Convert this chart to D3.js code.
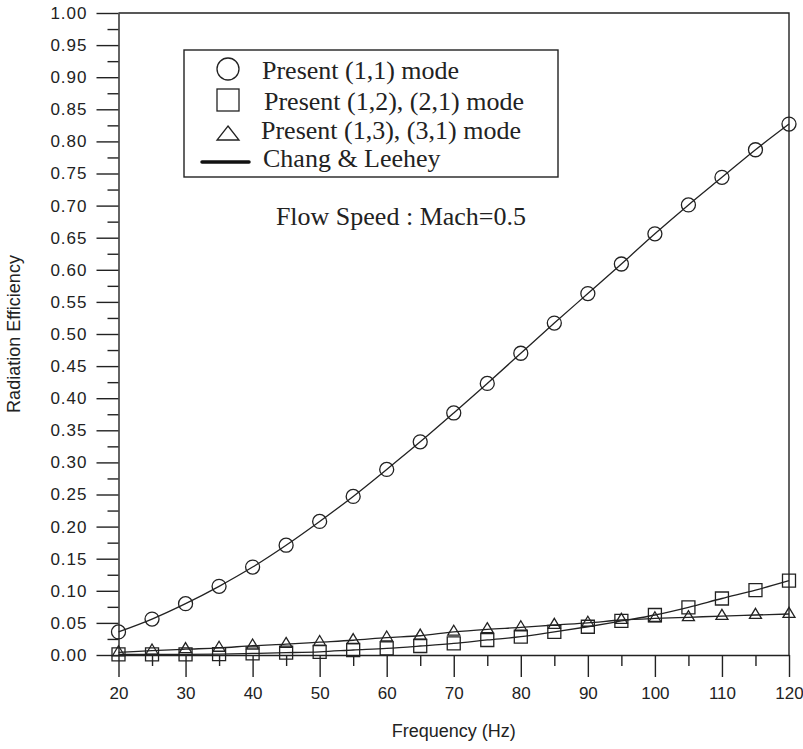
<!DOCTYPE html>
<html>
<head>
<meta charset="utf-8">
<script src="https://cdn.jsdelivr.net/npm/d3@7"></script>
<style>
  body { margin: 0; background: #fff; }
  svg { display: block; }
</style>
</head>
<body>
<div id="chart"></div>
<script>
const width = 803;
const height = 749;

// frequencies (Hz)
const freqs = [20, 25, 30, 35, 40, 45, 50, 55, 60, 65, 70, 75, 80, 85, 90, 95, 100, 105, 110, 115, 120];

// radiation efficiency
const mode11 = [0.036, 0.056, 0.080, 0.107, 0.137, 0.171, 0.208, 0.247, 0.289, 0.332, 0.377, 0.423, 0.470, 0.517, 0.563, 0.609, 0.656, 0.701, 0.744, 0.787, 0.827];
const mode12 = [0.001, 0.001, 0.001, 0.0015, 0.0025, 0.0036, 0.005, 0.0078, 0.0104, 0.014, 0.018, 0.0234, 0.0285, 0.036, 0.044, 0.053, 0.0623, 0.0743, 0.088, 0.101, 0.1157];
const mode13 = [0.004, 0.0067, 0.009, 0.011, 0.0145, 0.017, 0.020, 0.023, 0.027, 0.030, 0.036, 0.040, 0.043, 0.0467, 0.050, 0.0545, 0.057, 0.0587, 0.0607, 0.0623, 0.0639];

const legendLabels = ["Present (1,1) mode", "Present (1,2), (2,1) mode", "Present (1,3), (3,1) mode", "Chang & Leehey"];
const noteText = "Flow Speed : Mach=0.5";

const yMajor = d3.range(0, 1.0001, 0.05);
const yMinor = d3.range(0.025, 1, 0.05);
const xMajor = d3.range(20, 121, 10);
const xMinor = d3.range(25, 120, 10);

const ink = "#222";

const x = d3.scaleLinear().domain([20, 120]).range([118.5, 789]);
const y = d3.scaleLinear().domain([0, 1]).range([655, 13]);

const svg = d3.select("#chart").append("svg")
  .attr("width", width)
  .attr("height", height);

// frame (top and right)
svg.append("path")
  .attr("d", `M${x(20)},${y(1)}H${x(120)}V${y(0)}`)
  .attr("fill", "none")
  .attr("stroke", ink)
  .attr("stroke-width", 1.4);

// y axis
const yAxis = svg.append("g")
  .attr("transform", `translate(${x(20)},0)`)
  .call(d3.axisLeft(y).tickValues(yMajor).tickSize(22).tickPadding(9).tickFormat(d3.format(".2f")).tickSizeOuter(0));
svg.append("g")
  .attr("transform", `translate(${x(20)},0)`)
  .call(d3.axisLeft(y).tickValues(yMinor).tickSize(11).tickFormat("").tickSizeOuter(0))
  .select(".domain").remove();

// x axis
const xAxis = svg.append("g")
  .attr("transform", `translate(0,${y(0)})`)
  .call(d3.axisBottom(x).tickValues(xMajor).tickSize(22).tickPadding(10).tickSizeOuter(0));
svg.append("g")
  .attr("transform", `translate(0,${y(0)})`)
  .call(d3.axisBottom(x).tickValues(xMinor).tickSize(11).tickFormat("").tickSizeOuter(0))
  .select(".domain").remove();

svg.selectAll(".domain, .tick line")
  .attr("stroke", ink)
  .attr("stroke-width", 1.4);
svg.selectAll(".tick text")
  .attr("fill", ink)
  .style("font-family", "Liberation Sans, Arial, sans-serif")
  .style("font-size", "17px");
yAxis.selectAll(".tick text").style("letter-spacing", "1px");

// axis titles
svg.append("text")
  .attr("x", (x(20) + x(120)) / 2)
  .attr("y", 737)
  .attr("text-anchor", "middle")
  .attr("fill", ink)
  .style("font-family", "Liberation Sans, Arial, sans-serif")
  .style("font-size", "18px")
  .text("Frequency (Hz)");

svg.append("text")
  .attr("transform", `translate(20,${(y(0) + y(1)) / 2}) rotate(-90)`)
  .attr("text-anchor", "middle")
  .attr("fill", ink)
  .style("font-family", "Liberation Sans, Arial, sans-serif")
  .style("font-size", "18px")
  .text("Radiation Efficiency");

// series
const series = [
  { values: mode11, shape: "circle" },
  { values: mode12, shape: "square" },
  { values: mode13, shape: "triangle" }
];

const line = d3.line()
  .x(d => x(d[0]))
  .y(d => y(d[1]))
  .curve(d3.curveCatmullRom);

const symCircle = d3.symbol().type(d3.symbolCircle).size(Math.PI * 7 * 7);
const symSquare = d3.symbol().type(d3.symbolSquare).size(13 * 13);
const triPath = (w, h) => `M0,${-h * 2 / 3}L${w / 2},${h / 3}L${-w / 2},${h / 3}Z`;

series.forEach(s => {
  const pts = freqs.map((f, i) => [f, s.values[i]]);
  svg.append("path")
    .datum(pts)
    .attr("fill", "none")
    .attr("stroke", ink)
    .attr("stroke-width", 1.3)
    .attr("d", line);

  svg.append("g").selectAll("path")
    .data(pts)
    .enter()
    .append("path")
    .attr("transform", d => `translate(${x(d[0])},${y(d[1])})`)
    .attr("d", s.shape === "circle" ? symCircle() : s.shape === "square" ? symSquare() : triPath(12, 10))
    .attr("fill", "none")
    .attr("stroke", ink)
    .attr("stroke-width", 1.3);
});

// legend
const legend = svg.append("g");
legend.append("rect")
  .attr("x", 184)
  .attr("y", 50)
  .attr("width", 374)
  .attr("height", 127)
  .attr("fill", "#fff")
  .attr("stroke", ink)
  .attr("stroke-width", 1.4);

const rowY = [79, 110, 139, 167];
const symY = [69, 100, 134, 162];
const textX = [262, 264, 261, 263];

legend.append("circle")
  .attr("cx", 228).attr("cy", symY[0]).attr("r", 11)
  .attr("fill", "none").attr("stroke", ink).attr("stroke-width", 1.3);
legend.append("rect")
  .attr("x", 217).attr("y", symY[1] - 11).attr("width", 22).attr("height", 22)
  .attr("fill", "none").attr("stroke", ink).attr("stroke-width", 1.3);
legend.append("path")
  .attr("transform", `translate(228,${symY[2]})`)
  .attr("d", `M0,-8L11,6L-11,6Z`)
  .attr("fill", "none").attr("stroke", ink).attr("stroke-width", 1.3);
legend.append("line")
  .attr("x1", 202).attr("x2", 249).attr("y1", symY[3]).attr("y2", symY[3])
  .attr("stroke", "#111").attr("stroke-width", 3.5).attr("stroke-linecap", "round");

legend.selectAll("text.lab")
  .data(legendLabels)
  .enter()
  .append("text")
  .attr("class", "lab")
  .attr("x", (d, i) => textX[i])
  .attr("y", (d, i) => rowY[i])
  .attr("fill", ink)
  .style("font-family", "Liberation Serif, 'Times New Roman', serif")
  .style("font-size", "26px")
  .text(d => d);

svg.append("text")
  .attr("x", 526)
  .attr("y", 225)
  .attr("text-anchor", "end")
  .attr("fill", ink)
  .style("font-family", "Liberation Serif, 'Times New Roman', serif")
  .style("font-size", "26px")
  .text(noteText);
</script>
</body>
</html>
